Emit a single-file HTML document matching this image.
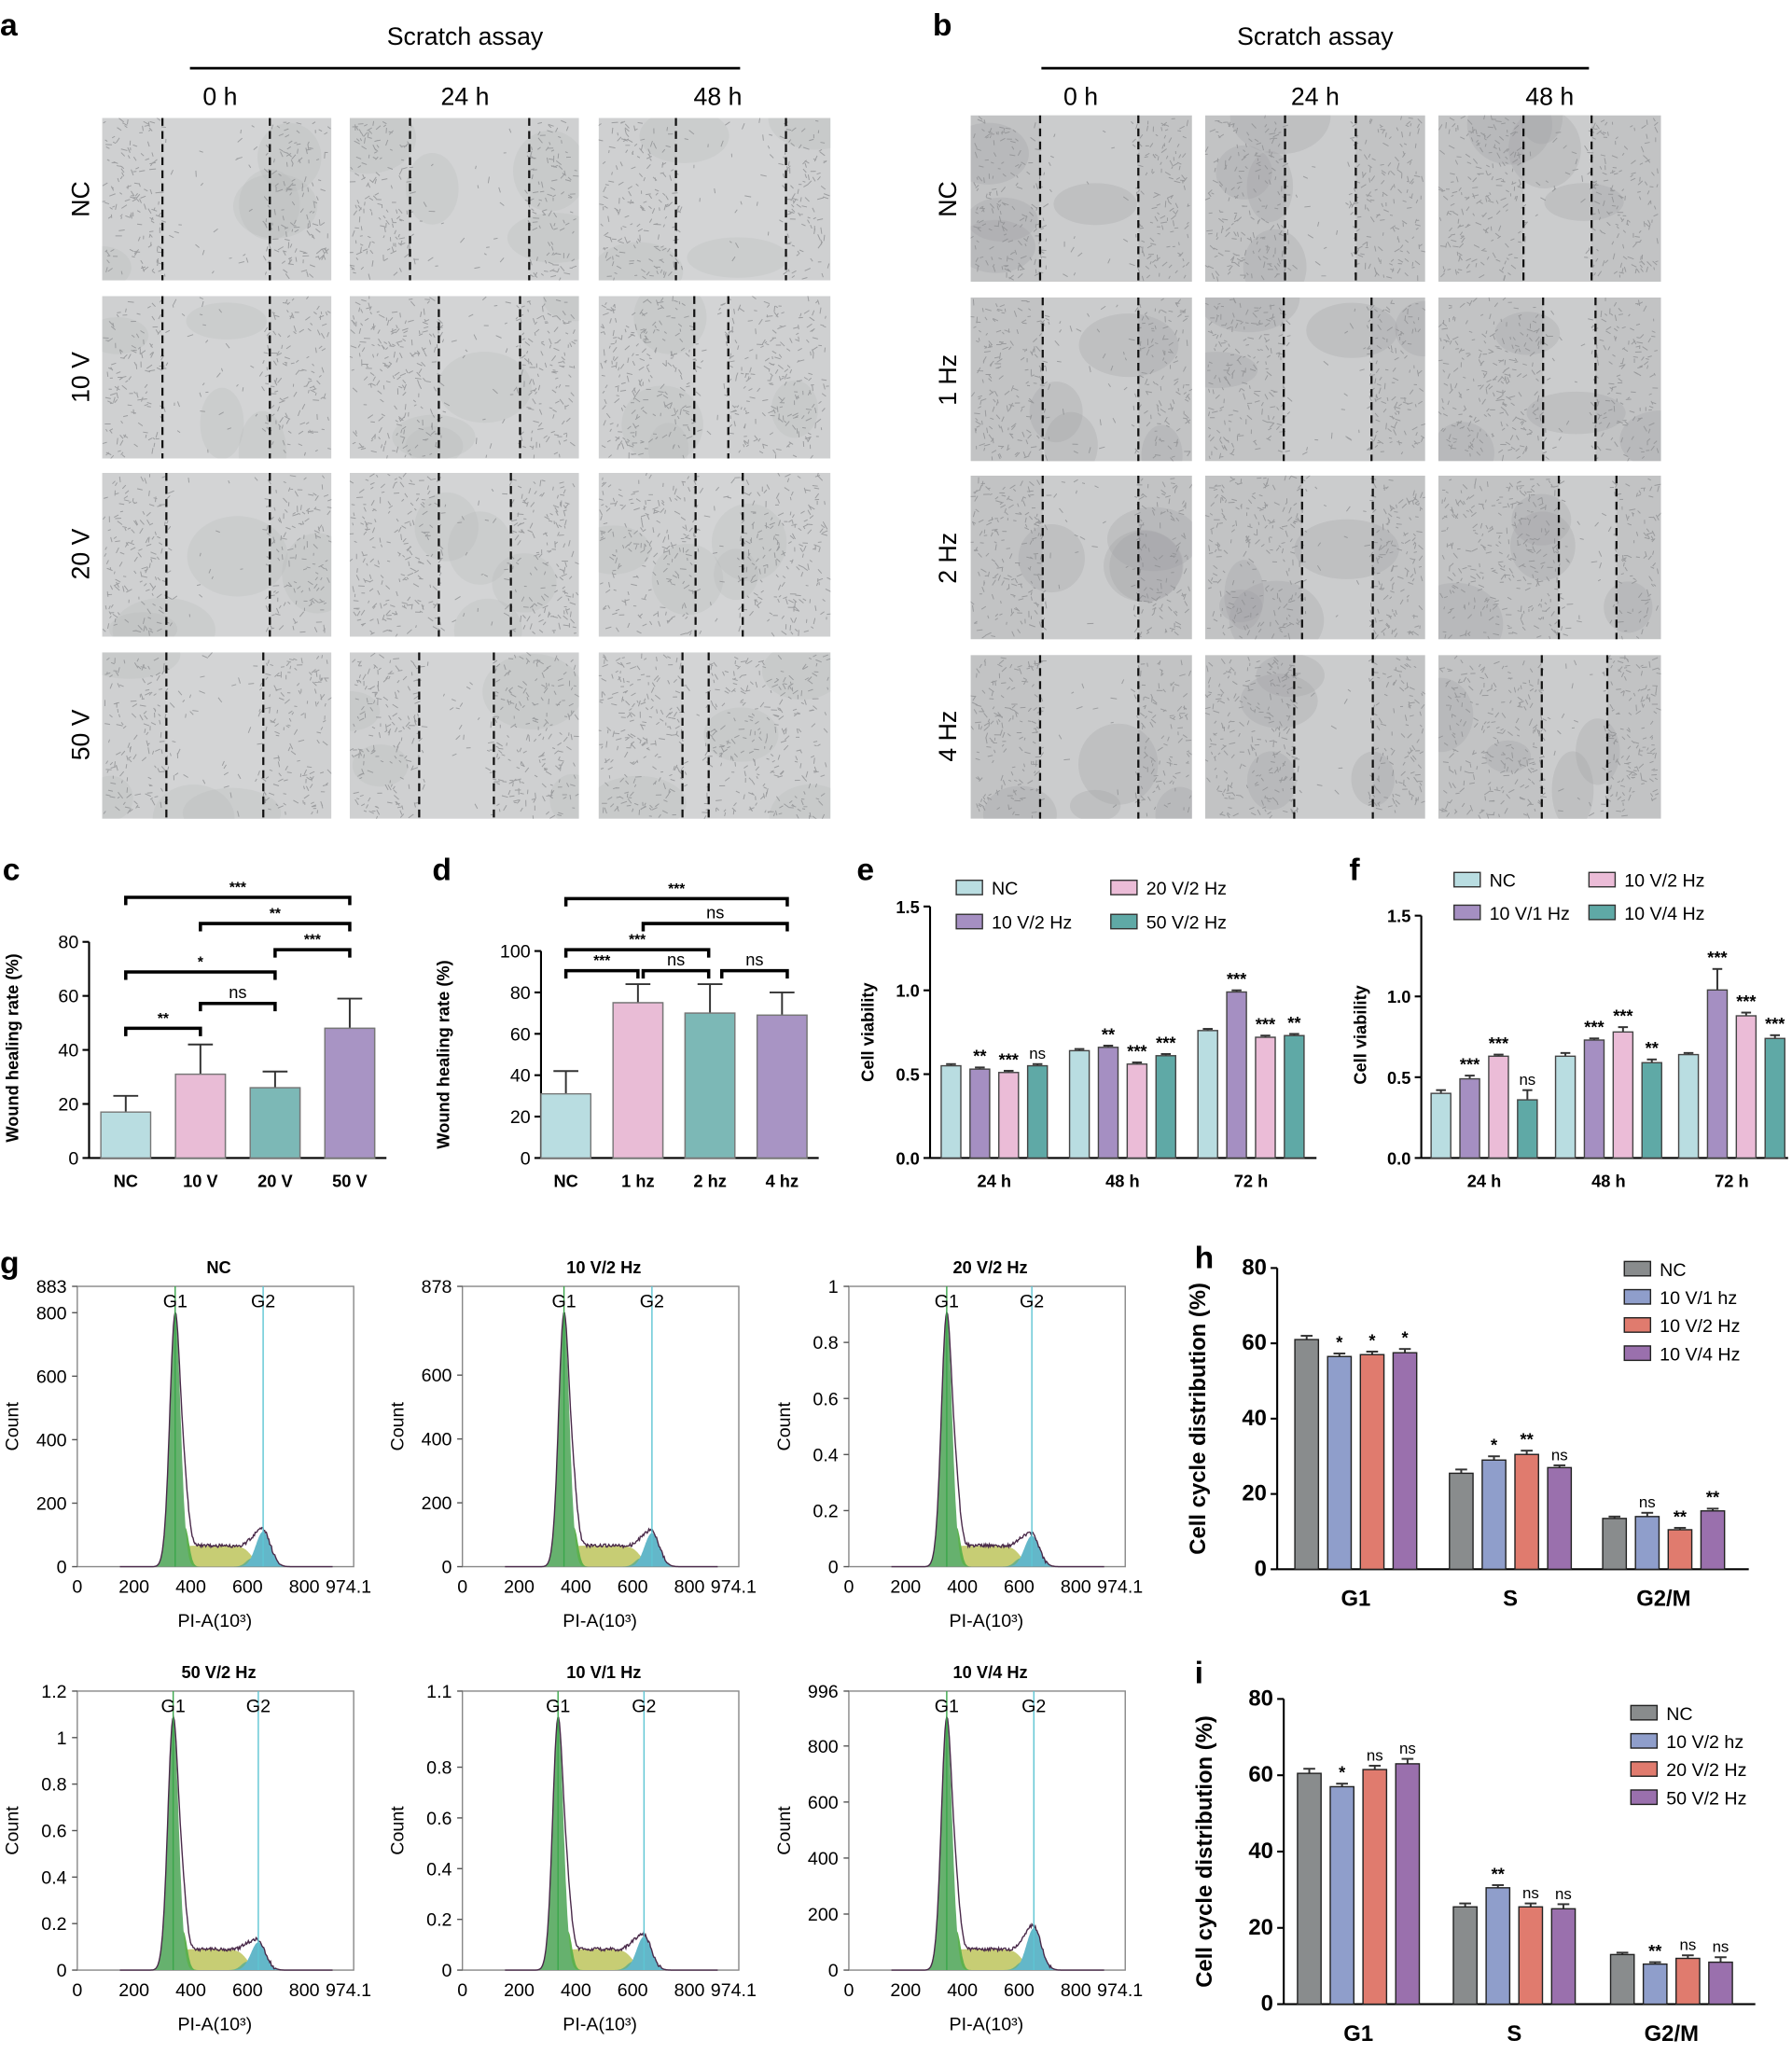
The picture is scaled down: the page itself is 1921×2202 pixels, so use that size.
<!DOCTYPE html>
<html><head><meta charset="utf-8"><style>
body{margin:0;background:#fff}
svg{display:block;font-family:"Liberation Sans",Arial,sans-serif}
</style></head><body>
<svg id="s" xmlns="http://www.w3.org/2000/svg" viewBox="0 0 1368 1568" width="1921" height="2202">
<rect width="1368" height="1568" fill="#fff"/>
<defs id="defs"></defs>
<text x="0" y="27" font-size="24" font-weight="bold">a</text>
<text x="712" y="27" font-size="24" font-weight="bold">b</text>
<text x="2" y="672" font-size="24" font-weight="bold">c</text>
<text x="330" y="672" font-size="24" font-weight="bold">d</text>
<text x="654" y="672" font-size="24" font-weight="bold">e</text>
<text x="1030" y="672" font-size="24" font-weight="bold">f</text>
<text x="0" y="972" font-size="24" font-weight="bold">g</text>
<text x="912" y="968" font-size="24" font-weight="bold">h</text>
<text x="912" y="1285" font-size="24" font-weight="bold">i</text>
<text x="355" y="34" font-size="19" text-anchor="middle">Scratch assay</text>
<line x1="145" y1="52" x2="565" y2="52" stroke="#000" stroke-width="2"/>
<text x="168" y="80" font-size="19" text-anchor="middle">0 h</text>
<text x="355" y="80" font-size="19" text-anchor="middle">24 h</text>
<text x="548" y="80" font-size="19" text-anchor="middle">48 h</text>
<text x="1004" y="34" font-size="19" text-anchor="middle">Scratch assay</text>
<line x1="795" y1="52" x2="1213" y2="52" stroke="#000" stroke-width="2"/>
<text x="825" y="80" font-size="19" text-anchor="middle">0 h</text>
<text x="1004" y="80" font-size="19" text-anchor="middle">24 h</text>
<text x="1183" y="80" font-size="19" text-anchor="middle">48 h</text>
<text transform="translate(68,152) rotate(-90)" font-size="19" text-anchor="middle">NC</text>
<text transform="translate(68,288) rotate(-90)" font-size="19" text-anchor="middle">10 V</text>
<text transform="translate(68,423) rotate(-90)" font-size="19" text-anchor="middle">20 V</text>
<text transform="translate(68,561) rotate(-90)" font-size="19" text-anchor="middle">50 V</text>
<text transform="translate(730,152) rotate(-90)" font-size="19" text-anchor="middle">NC</text>
<text transform="translate(730,290) rotate(-90)" font-size="19" text-anchor="middle">1 Hz</text>
<text transform="translate(730,426) rotate(-90)" font-size="19" text-anchor="middle">2 Hz</text>
<text transform="translate(730,562) rotate(-90)" font-size="19" text-anchor="middle">4 Hz</text>
<g id="imgs"></g>
<g id="charts" font-size="13"></g>
</svg>
<script>
const NS="http://www.w3.org/2000/svg";
const root=document.getElementById('charts'), imgs=document.getElementById('imgs'), defs=document.getElementById('defs');
function el(p,tag,a,txt){const e=document.createElementNS(NS,tag);for(const k in a)e.setAttribute(k,a[k]);if(txt!==undefined)e.textContent=txt;p.appendChild(e);return e;}
let seed=7;function rnd(){seed=(seed*16807)%2147483647;return seed/2147483647;}
let cid=0;
function img(x,y,w,h,l1,l2,dark){
  const id='c'+(cid++);const cp=el(defs,'clipPath',{id});el(cp,'rect',{x,y,width:w,height:h});
  const g=el(imgs,'g',{'clip-path':`url(#${id})`});
  el(g,'rect',{x,y,width:w,height:h,fill:dark?'#c2c3c4':'#cfd0d1'});
  el(g,'rect',{x:l1,y,width:l2-l1,height:h,fill:dark?'#cbcccd':'#d3d4d5'});
  for(let i=0;i<4;i++){const cx=x+rnd()*w,cy=y+rnd()*h;el(g,'ellipse',{cx,cy,rx:15+rnd()*25,ry:12+rnd()*20,fill:dark?'#9a9c9e':'#b5b7b9',opacity:0.25});}
  let d='';
  for(let i=0;i<520;i++){const px=x+2+rnd()*(w-4),py=y+2+rnd()*(h-4);if(px>l1+3&&px<l2-3&&rnd()<0.9)continue;const a=rnd()*6.28,L=2+rnd()*3;d+=`M${px.toFixed(1)} ${py.toFixed(1)}l${(Math.cos(a)*L).toFixed(1)} ${(Math.sin(a)*L).toFixed(1)}`;}
  el(g,'path',{d,stroke:'#8e9092','stroke-width':0.7,fill:'none',opacity:0.8});
  [l1,l2].forEach(l=>el(g,'line',{x1:l,y1:y,x2:l,y2:y+h,stroke:'#111','stroke-width':1.6,'stroke-dasharray':'6,4'}));
}
const ac=[[78,175],[267,175],[457,177]],ar=[[90,124],[226,124],[361,125],[498,127]];
const al=[[[124,206],[313,404],[516,600]],[[124,206],[335,397],[530,556]],[[127,206],[335,390],[531,567]],[[127,201],[320,377],[521,541]]];
ar.forEach((r,i)=>ac.forEach((c,j)=>img(c[0],r[0],c[1],r[1],al[i][j][0],al[i][j][1],false)));
const bc=[[741,169],[920,168],[1098,170]],br=[[88,127],[227,125],[363,125],[500,125]];
const bl=[[[794,869],[981,1035],[1163,1215]],[[796,869],[980,1047],[1178,1218]],[[796,869],[994,1048],[1190,1234]],[[794,869],[988,1048],[1177,1227]]];
br.forEach((r,i)=>bc.forEach((c,j)=>img(c[0],r[0],c[1],r[1],bl[i][j][0],bl[i][j][1],true)));

function barChart(o){
  const g=root;const Y=v=>o.y0-v*o.sc;
  el(g,'line',{x1:o.x0,y1:o.y0,x2:o.x0,y2:Y(o.ymax),stroke:'#000','stroke-width':1.5});
  el(g,'line',{x1:o.x0,y1:o.y0,x2:o.xEnd,y2:o.y0,stroke:'#000','stroke-width':1.5});
  o.ticks.forEach(t=>{el(g,'line',{x1:o.x0-5,y1:Y(t[0]),x2:o.x0,y2:Y(t[0]),stroke:'#000','stroke-width':1.5});el(g,'text',{x:o.x0-8,y:Y(t[0])+5,'text-anchor':'end','font-size':o.tf||14,'font-weight':o.tb?'bold':'normal'},t[1]);});
  el(g,'text',{transform:`translate(${o.ylx},${o.yly}) rotate(-90)`,'text-anchor':'middle','font-weight':'bold','font-size':o.ylf||13},o.yl);
  o.groups.forEach(gr=>{
    el(g,'text',{x:gr.x,y:o.y0+(o.xlo||22),'text-anchor':'middle','font-weight':'bold','font-size':o.xlf||13},gr.l);
    gr.v.forEach((v,i)=>{const cx=gr.x+(i-(gr.v.length-1)/2)*o.sp;const w=o.bw;const e=(gr.e||[])[i]||o.err;
      el(g,'line',{x1:cx,y1:Y(v),x2:cx,y2:Y(v+e),stroke:'#333','stroke-width':1.4});
      el(g,'line',{x1:cx-w*0.25,y1:Y(v+e),x2:cx+w*0.25,y2:Y(v+e),stroke:'#333','stroke-width':1.4});
      el(g,'rect',{x:cx-w/2,y:Y(v),width:w,height:v*o.sc,fill:o.col[i],stroke:o.stroke||'#444','stroke-width':1});
      const st=(gr.s||[])[i];if(st)el(g,'text',{x:cx,y:Y(v+e)-4,'text-anchor':'middle','font-size':st=='ns'?12:13,'font-weight':st=='ns'?'normal':'bold'},st);
    });
  });
}
barChart({x0:68,y0:884,sc:165/80,ymax:80,xEnd:295,ticks:[[0,'0'],[20,'20'],[40,'40'],[60,'60'],[80,'80']],yl:'Wound healing rate (%)',ylx:14,yly:800,bw:38,sp:0,err:0,stroke:'#777',
 col:['#b9dde1'],groups:[{x:96,l:'NC',v:[17],e:[6]},{x:153,l:'10 V',v:[31],e:[11]},{x:210,l:'20 V',v:[26],e:[6]},{x:267,l:'50 V',v:[48],e:[11]}]});
function simpleBars(x0,y0,sc,list){list.forEach(b=>{el(root,'rect',{x:b[0]-19,y:y0-b[1]*sc,width:38,height:b[1]*sc,fill:b[2],stroke:'#777','stroke-width':1});});}
simpleBars(68,884,165/80,[[153,31,'#e9bcd6'],[210,26,'#7cb8b6'],[267,48,'#a894c4']]);
function br_(x1,x2,y,t){el(root,'path',{d:`M${x1} ${y+6}V${y}H${x2}V${y+6}`,stroke:'#000','stroke-width':2.5,fill:'none'});el(root,'text',{x:(x1+x2)/2,y:y-4,'text-anchor':'middle','font-size':t=='ns'?13:11,'font-weight':t=='ns'?'normal':'bold'},t);}
br_(96,267,685,'***');br_(153,267,705,'**');br_(210,267,725,'***');br_(96,210,742,'*');br_(153,210,766,'ns');br_(96,153,785,'**');
barChart({x0:413,y0:884,sc:158/100,ymax:100,xEnd:625,ticks:[[0,'0'],[20,'20'],[40,'40'],[60,'60'],[80,'80'],[100,'100']],yl:'Wound healing rate (%)',ylx:343,yly:805,bw:38,sp:0,err:0,stroke:'#777',
 col:['#b9dde1'],groups:[{x:432,l:'NC',v:[31],e:[11]},{x:487,l:'1 hz',v:[75],e:[9]},{x:542,l:'2 hz',v:[70],e:[14]},{x:597,l:'4 hz',v:[69],e:[11]}]});
simpleBars(413,884,158/100,[[487,75,'#e9bcd6'],[542,70,'#7cb8b6'],[597,69,'#a894c4']]);
br_(432,601,686,'***');br_(491,601,705,'ns');br_(432,541,725,'***');br_(491,541,741,'ns');br_(432,487,741,'***');br_(551,601,741,'ns');
const ce=['#b9dde1','#a58fc2','#ebbcd7','#5fa9a6'];
barChart({x0:710,y0:884,sc:192/1.5,ymax:1.5,xEnd:1005,ticks:[[0,'0.0'],[0.5,'0.5'],[1,'1.0'],[1.5,'1.5']],tb:true,tf:13,yl:'Cell viability',ylx:667,yly:788,bw:15,sp:22,err:0.01,col:ce,
 groups:[{x:759,l:'24 h',v:[.55,.53,.51,.55],s:[0,'**','***','ns']},{x:857,l:'48 h',v:[.64,.66,.56,.61],s:[0,'**','***','***']},{x:955,l:'72 h',v:[.76,.99,.72,.73],s:[0,'***','***','**']}]});
[[730,672,'NC',0],[730,698,'10 V/2 Hz',1],[848,672,'20 V/2 Hz',2],[848,698,'50 V/2 Hz',3]].forEach(l=>{el(root,'rect',{x:l[0],y:l[1],width:20,height:11,fill:ce[l[3]],stroke:'#333'});el(root,'text',{x:l[0]+27,y:l[1]+11,'font-size':14},l[2]);});
const cf=['#b9dde1','#a58fc2','#ebbcd7','#5fa9a6'];
barChart({x0:1085,y0:884,sc:185/1.5,ymax:1.5,xEnd:1365,ticks:[[0,'0.0'],[0.5,'0.5'],[1,'1.0'],[1.5,'1.5']],tb:true,tf:13,yl:'Cell viability',ylx:1043,yly:790,bw:15,sp:22,err:0.01,col:cf,
 groups:[{x:1133,l:'24 h',v:[.40,.49,.63,.36],e:[.02,.02,.01,.06],s:[0,'***','***','ns']},{x:1228,l:'48 h',v:[.63,.73,.78,.59],e:[.02,.01,.03,.02],s:[0,'***','***','**']},{x:1322,l:'72 h',v:[.64,1.04,.88,.74],e:[.01,.13,.02,.02],s:[0,'***','***','***']}]});
[[1110,666,'NC',0],[1110,691,'10 V/1 Hz',1],[1213,666,'10 V/2 Hz',2],[1213,691,'10 V/4 Hz',3]].forEach(l=>{el(root,'rect',{x:l[0],y:l[1],width:20,height:11,fill:cf[l[3]],stroke:'#333'});el(root,'text',{x:l[0]+27,y:l[1]+11,'font-size':14},l[2]);});
const ch=['#898c8d','#8f9ecb','#e07b6e','#9a70ad'];
function cc(x0,y0,top,groupsX,vals,errs,stars,legend,lx,ly){
 barChart({x0,y0,sc:(y0-top)/80,ymax:80,xEnd:x0+360,ticks:[[0,'0'],[20,'20'],[40,'40'],[60,'60'],[80,'80']],tb:true,tf:17,yl:'Cell cycle distribution (%)',ylx:x0-55,yly:(y0+top)/2,ylf:17,xlf:17,xlo:28,bw:18,sp:25,err:0.8,col:ch,stroke:'#222',
  groups:['G1','S','G2/M'].map((l,k)=>({x:groupsX[k],l,v:vals[k],e:errs[k],s:stars[k]}))});
 legend.forEach((t,i)=>{el(root,'rect',{x:lx,y:ly+i*21.5,width:20,height:11,fill:ch[i],stroke:'#222'});el(root,'text',{x:lx+27,y:ly+i*21.5+11,'font-size':14},t);});
}
cc(975,1198,968,[1035,1153,1270],[[61,56.5,57,57.5],[25.5,29,30.5,27],[13.5,14,10.5,15.5]],[[1,.8,.8,1],[1,1,1,.6],[.5,1,.5,.6]],
 [[0,'*','*','*'],[0,'*','**','ns'],[0,'ns','**','**']],['NC','10 V/1 hz','10 V/2 Hz','10 V/4 Hz'],1240,963);
cc(980,1530,1297,[1037,1156,1276],[[60.5,57,61.5,63],[25.5,30.5,25.5,25],[13,10.5,12,11]],[[1.2,.8,1,1.3],[.9,.7,.9,1.2],[.5,.5,.8,1.3]],
 [[0,'*','ns','ns'],[0,'**','ns','ns'],[0,'**','ns','ns']],['NC','10 V/2 hz','20 V/2 Hz','50 V/2 Hz'],1245,1302);
function hist(x0,top,bot,ticks,title,c1,c2,h2){
 const W=211,H=bot-top,X=v=>x0+v*W/974.1;
 el(root,'rect',{x:x0,y:top,width:W,height:H,fill:'none',stroke:'#888','stroke-width':1});
 el(root,'text',{x:x0+108,y:top-10,'text-anchor':'middle','font-weight':'bold','font-size':13},title);
 ticks.forEach(t=>{const y=bot-t[0]*H;el(root,'line',{x1:x0-4,y1:y,x2:x0,y2:y,stroke:'#555'});el(root,'text',{x:x0-8,y:y+5,'text-anchor':'end','font-size':14},t[1]);});
 [[0,'0'],[200,'200'],[400,'400'],[600,'600'],[800,'800'],[974.1,'974.1']].forEach(t=>el(root,'text',{x:X(t[0])+(t[0]>900?-4:0),y:bot+20,'text-anchor':'middle','font-size':14},t[1]));
 el(root,'text',{x:x0+105,y:bot+46,'text-anchor':'middle','font-size':14},'PI-A(10³)');
 el(root,'text',{transform:`translate(${x0-45},${(top+bot)/2}) rotate(-90)`,'text-anchor':'middle','font-size':14},'Count');
 const g1=v=>0.9*Math.exp(-((v-c1)**2)/(2*19*19)), g1b=v=>0.14*Math.exp(-((v-c1-35)**2)/(2*14*14));
 const sS=v=>0.075/(1+Math.exp(-(v-c1-25)/6))/(1+Math.exp((v-c2+40)/15));
 const g2=v=>h2*Math.exp(-((v-c2)**2)/(2*26*26)), g2b=v=>0.03*Math.exp(-((v-c2+40)**2)/(2*20*20));
 function area(f,col){let d=`M${X(150)} ${bot}`;for(let v=150;v<=900;v+=2)d+=`L${X(v).toFixed(1)} ${(bot-f(v)*H).toFixed(1)}`;d+=`L${X(900)} ${bot}Z`;el(root,'path',{d,fill:col,stroke:'none'});}
 area(sS,'#c7cd74');area(g2b,'#6db28a');area(g2,'#63b7c9');area(g1b,'#5db14d');area(g1,'#66b16e');
 let d='';for(let v=150;v<=900;v+=3){const n=(v>c1+30&&v<c2+60)?(rnd()-0.5)*0.012:0;const y=bot-(g1(v)+g1b(v)+sS(v)+g2(v)+g2b(v)+n+0.004*Math.exp(-((v-c1+45)**2)/200))*H;d+=(d?'L':'M')+X(v).toFixed(1)+' '+y.toFixed(1);}
 el(root,'path',{d,fill:'none',stroke:'#4a2a4a','stroke-width':1});
 el(root,'line',{x1:X(c1),y1:top,x2:X(c1),y2:bot,stroke:'#3aa64a','stroke-width':1});
 el(root,'line',{x1:X(c2),y1:top,x2:X(c2),y2:bot,stroke:'#5ec5d3','stroke-width':1});
 el(root,'text',{x:X(c1),y:top+16,'text-anchor':'middle','font-size':14},'G1');
 el(root,'text',{x:X(c2),y:top+16,'text-anchor':'middle','font-size':14},'G2');
}
const T=(vals,max)=>vals.map(v=>[v/max,String(v)]);
hist(59,982,1196,[...T([0,200,400,600,800],883),[1,'883']],'NC',345,655,0.125);
hist(353,982,1196,[...T([0,200,400,600],878),[1,'878']],'10 V/2 Hz',358,668,0.12);
hist(648,982,1196,T([0,0.2,0.4,0.6,0.8,1],1),'20 V/2 Hz',345,645,0.11);
hist(59,1291,1504,T([0,0.2,0.4,0.6,0.8,1,1.2],1.2),'50 V/2 Hz',338,638,0.1);
hist(353,1291,1504,T([0,0.2,0.4,0.6,0.8,1.1],1.1),'10 V/1 Hz',337,640,0.12);
hist(648,1291,1504,[...T([0,200,400,600,800],996),[1,'996']],'10 V/4 Hz',345,652,0.15);
</script>
</body></html>
